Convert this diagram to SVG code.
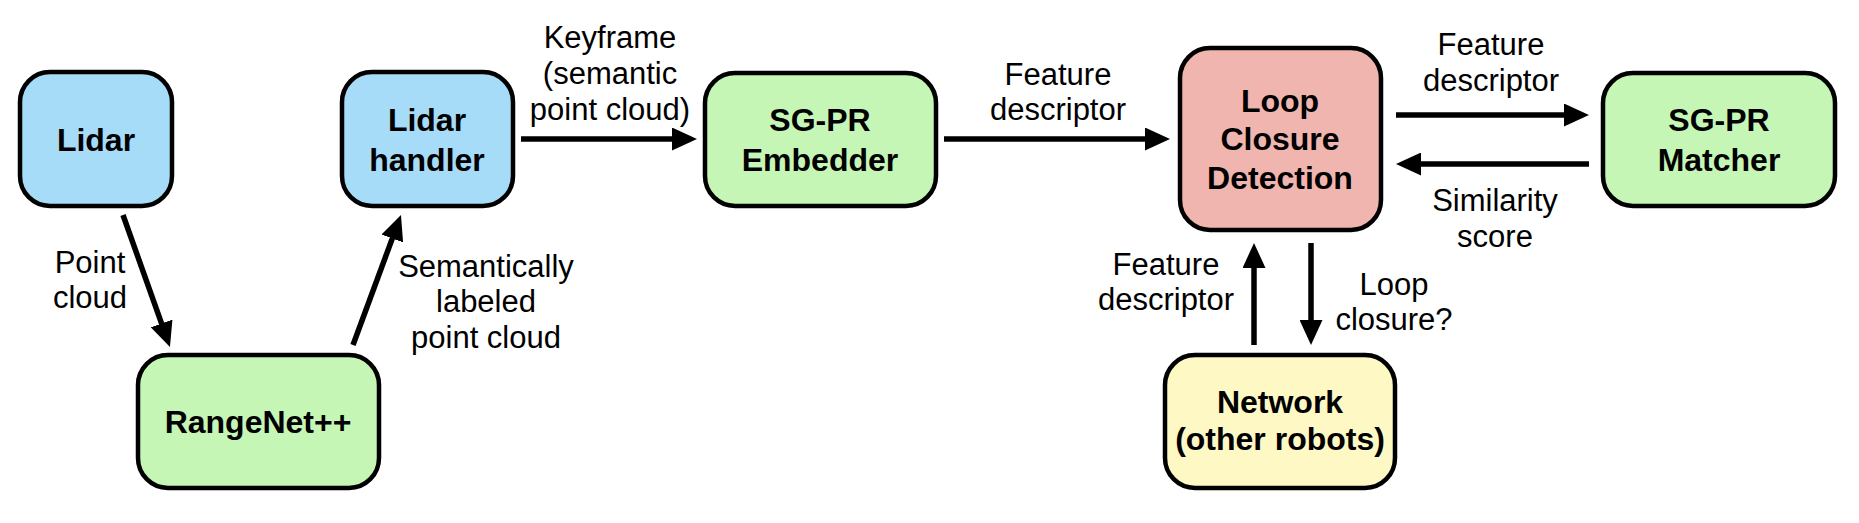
<svg xmlns="http://www.w3.org/2000/svg" width="1859" height="523" viewBox="0 0 1859 523">
<style>
.box{stroke:#000;stroke-width:4.5}
.blue{fill:#A6DCF8}
.green{fill:#C5F6B6}
.pink{fill:#F0B5AE}
.yellow{fill:#FEF8C4}
.nt{font-family:"Liberation Sans",Arial,Helvetica,sans-serif;font-weight:bold;font-size:32px;text-anchor:middle;fill:#000}
.lt{font-family:"Liberation Sans",Arial,Helvetica,sans-serif;font-size:31px;text-anchor:middle;fill:#000}
.edge{stroke:#000;stroke-width:5.5;fill:none;marker-end:url(#ah)}
</style>
<defs>
<marker id="ah" markerUnits="userSpaceOnUse" markerWidth="25" markerHeight="23" refX="15" refY="11.5" orient="auto">
<path d="M0,0 L25,11.5 L0,23 z" fill="#000"/>
</marker>
</defs>
<rect width="1859" height="523" fill="#fff"/>
<g id="connectors">
<line class="edge" x1="123" y1="215" x2="166.6" y2="337.6"/>
<line class="edge" x1="353" y1="345" x2="397.5" y2="224.4"/>
<line class="edge" x1="521" y1="139" x2="687" y2="139"/>
<line class="edge" x1="944" y1="139" x2="1160" y2="139"/>
<line class="edge" x1="1396" y1="115" x2="1579" y2="115"/>
<line class="edge" x1="1589" y1="164" x2="1406" y2="164"/>
<line class="edge" x1="1254" y1="345" x2="1254" y2="253"/>
<line class="edge" x1="1311" y1="243" x2="1311" y2="335"/>
<text class="lt" x="90"><tspan x="90" y="273">Point</tspan><tspan x="90" y="308">cloud</tspan></text>
<text class="lt"><tspan x="486" y="277">Semantically</tspan><tspan x="486" y="312">labeled</tspan><tspan x="486" y="348">point cloud</tspan></text>
<text class="lt"><tspan x="610" y="48">Keyframe</tspan><tspan x="610" y="84">(semantic</tspan><tspan x="610" y="120">point cloud)</tspan></text>
<text class="lt"><tspan x="1058" y="85">Feature</tspan><tspan x="1058" y="120">descriptor</tspan></text>
<text class="lt"><tspan x="1491" y="55">Feature</tspan><tspan x="1491" y="91">descriptor</tspan></text>
<text class="lt"><tspan x="1495" y="211">Similarity</tspan><tspan x="1495" y="247">score</tspan></text>
<text class="lt"><tspan x="1166" y="275">Feature</tspan><tspan x="1166" y="310">descriptor</tspan></text>
<text class="lt"><tspan x="1394" y="295">Loop</tspan><tspan x="1394" y="330">closure?</tspan></text>
</g>
<g id="lidar">
<rect class="box blue" x="20" y="72" width="152" height="134" rx="30"/>
<text class="nt" x="96" y="151">Lidar</text>
</g>
<g id="lidar-handler">
<rect class="box blue" x="342" y="72" width="171" height="134" rx="30"/>
<text class="nt"><tspan x="427" y="131">Lidar</tspan><tspan x="427" y="171">handler</tspan></text>
</g>
<g id="rangenet">
<rect class="box green" x="138" y="355" width="241" height="133" rx="30"/>
<text class="nt" x="258" y="433">RangeNet++</text>
</g>
<g id="sgpr-embedder">
<rect class="box green" x="705" y="73" width="231" height="133" rx="30"/>
<text class="nt"><tspan x="820" y="131">SG-PR</tspan><tspan x="820" y="171">Embedder</tspan></text>
</g>
<g id="loop-closure-detection">
<rect class="box pink" x="1180" y="48" width="201" height="182" rx="30"/>
<text class="nt"><tspan x="1280" y="112">Loop</tspan><tspan x="1280" y="150">Closure</tspan><tspan x="1280" y="189">Detection</tspan></text>
</g>
<g id="sgpr-matcher">
<rect class="box green" x="1603" y="73" width="232" height="133" rx="30"/>
<text class="nt"><tspan x="1719" y="131">SG-PR</tspan><tspan x="1719" y="171">Matcher</tspan></text>
</g>
<g id="network">
<rect class="box yellow" x="1165" y="355" width="230" height="133" rx="30"/>
<text class="nt"><tspan x="1280" y="413">Network</tspan><tspan x="1280" y="450">(other robots)</tspan></text>
</g>
</svg>
